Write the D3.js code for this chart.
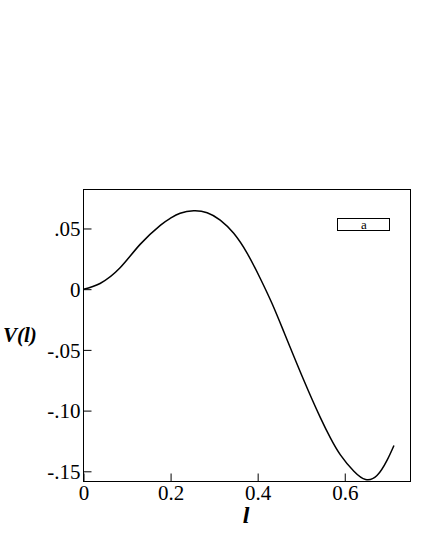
<!DOCTYPE html>
<html>
<head>
<meta charset="utf-8">
<script src="https://cdn.jsdelivr.net/npm/d3@7"></script>
<style>
  body { margin: 0; background: #fff; }
  svg { display: block; }
</style>
</head>
<body>
<svg id="chart"></svg>
<script>
// curve values
var lValues = [0, 0.038, 0.084, 0.130, 0.177, 0.199, 0.222, 0.253, 0.284, 0.314, 0.345, 0.376, 0.406, 0.433, 0.460, 0.506, 0.544, 0.567, 0.590, 0.621, 0.648, 0.674, 0.697, 0.713];
var vValues = [0, 0.0047, 0.0176, 0.0369, 0.0528, 0.0583, 0.0625, 0.0646, 0.0630, 0.0569, 0.0460, 0.0295, 0.0088, -0.0118, -0.0350, -0.0750, -0.1058, -0.1225, -0.1365, -0.1500, -0.1568, -0.1535, -0.1410, -0.1287];
var xTicks = [0, 0.2, 0.4, 0.6];
var xTickLabels = ["0", "0.2", "0.4", "0.6"];
var yTicks = [0.05, 0, -0.05, -0.10, -0.15];
var yTickLabels = [".05", "0", "-.05", "-.10", "-.15"];
var legendLabel = "a";

var width = 421;
var height = 545;
var plotLeft = 83.5, plotRight = 410.5, plotTop = 189.5, plotBottom = 481.5;
var serif = "Liberation Serif";

var data = lValues.map((l, i) => ({ l: l, v: vValues[i] }));

var xScale = d3.scaleLinear()
  .domain([0, 0.751])
  .range([plotLeft, plotRight]);

var yScale = d3.scaleLinear()
  .domain([-0.1584, 0.0821])
  .range([plotBottom, plotTop]);

var svg = d3.select("#chart")
  .attr("width", width)
  .attr("height", height);

// frame
svg.append("rect")
  .attr("x", plotLeft)
  .attr("y", plotTop)
  .attr("width", plotRight - plotLeft)
  .attr("height", plotBottom - plotTop)
  .attr("fill", "none")
  .attr("stroke", "#000")
  .attr("stroke-width", 1);

// axes with inward ticks
var xAxis = d3.axisBottom(xScale)
  .tickValues(xTicks)
  .tickFormat((d, i) => xTickLabels[i])
  .tickSizeInner(-8)
  .tickSizeOuter(0);

var gx = svg.append("g")
  .attr("transform", "translate(0," + plotBottom + ")")
  .call(xAxis)
  .attr("font-family", serif);
gx.select(".domain").remove();
gx.selectAll("line").attr("stroke", "#000");
gx.selectAll("text")
  .attr("fill", "#000")
  .attr("y", 3)
  .attr("dy", "0.72em")
  .style("font-family", serif)
  .style("font-size", "21px");

var yAxis = d3.axisLeft(yScale)
  .tickValues(yTicks)
  .tickFormat((d, i) => yTickLabels[i])
  .tickSizeInner(-8)
  .tickSizeOuter(0);

var gy = svg.append("g")
  .attr("transform", "translate(" + plotLeft + ",0)")
  .call(yAxis)
  .attr("font-family", serif);
gy.select(".domain").remove();
gy.selectAll("line").attr("stroke", "#000");
gy.selectAll("text")
  .attr("fill", "#000")
  .attr("x", -3)
  .attr("dy", "0.35em")
  .style("font-family", serif)
  .style("font-size", "21px");

// curve
var line = d3.line()
  .x(d => xScale(d.l))
  .y(d => yScale(d.v))
  .curve(d3.curveNatural);

svg.append("path")
  .datum(data)
  .attr("d", line)
  .attr("fill", "none")
  .attr("stroke", "#000")
  .attr("stroke-width", 1.5);

// axis titles
svg.append("text")
  .attr("x", 3)
  .attr("y", 342)
  .style("font-family", serif)
  .style("font-size", "21px")
  .style("font-weight", "bold")
  .style("font-style", "italic")
  .text("V(l)");

svg.append("text")
  .attr("x", 246)
  .attr("y", 523)
  .attr("text-anchor", "middle")
  .style("font-family", serif)
  .style("font-size", "24px")
  .style("font-weight", "bold")
  .style("font-style", "italic")
  .text("l");

// legend
svg.append("rect")
  .attr("x", 337.5)
  .attr("y", 218.5)
  .attr("width", 52)
  .attr("height", 12)
  .attr("fill", "#fff")
  .attr("stroke", "#000")
  .attr("stroke-width", 1);

svg.append("text")
  .attr("x", 364)
  .attr("y", 228.5)
  .attr("text-anchor", "middle")
  .style("font-family", serif)
  .style("font-size", "13px")
  .text(legendLabel);
</script>
</body>
</html>
